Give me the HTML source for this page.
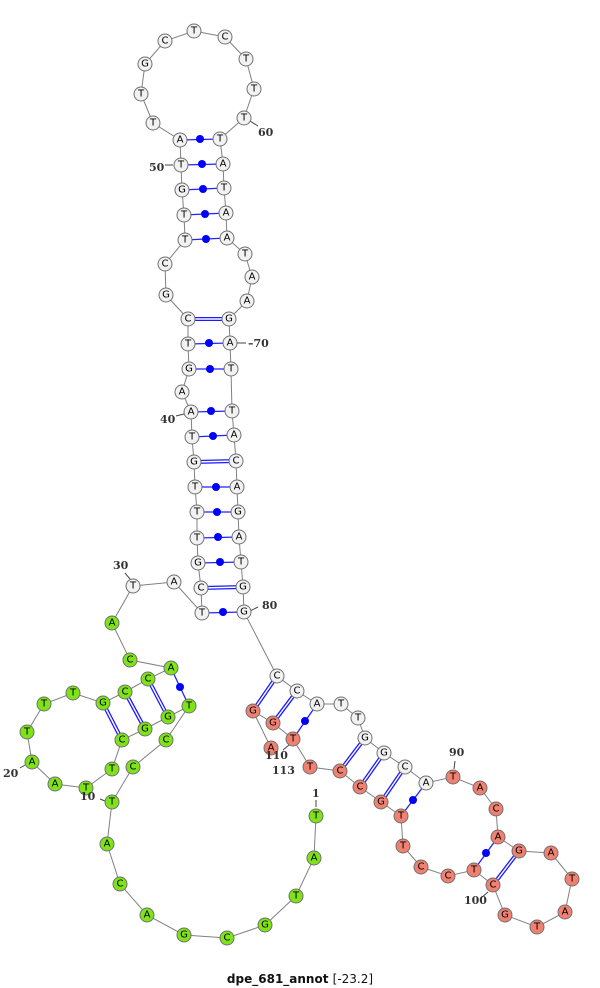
<!DOCTYPE html>
<html><head><meta charset="utf-8"><style>
html,body{margin:0;padding:0;background:#fff;}
svg{display:block;}
.b{fill:none;stroke:#808080;stroke-width:1;}
.n circle{stroke:#707070;stroke-width:1;}
.w circle{fill:#f2f2f2;}
.g circle{fill:#7fe31a;}
.r circle{fill:#f08070;}
.n text{font-family:"DejaVu Sans","Liberation Sans",sans-serif;font-size:10px;text-anchor:middle;dominant-baseline:central;fill:#000;}
.lab{font-family:"DejaVu Serif","Liberation Serif",serif;font-size:11px;font-weight:bold;fill:#333;}
.t{stroke:#444;stroke-width:1;}
.d{stroke:#1a1aff;stroke-width:4;}
.dw{stroke:#fff;stroke-width:1.4;}
.s{stroke:#2222ff;stroke-width:1.3;}
</style></head><body>
<svg width="600" height="988" viewBox="0 0 600 988" xmlns="http://www.w3.org/2000/svg">
<polyline class="b" points="316,816 314,858 296,896 265,925 227,938 184,935 147,915 120,884 107,844 112,802 133,767 166,740 189,706 168,717 145,729 122,740 112,769 86,788 55,784 32,762 27,732 44,704 73,693 103,703 125,692 148,679 171,668 130,660 112,623 133,586 174,582 202,613 201,588 198,563 197,538 197,512 195,487 194,462 192,437 191,412 182,392 189,369 188,344 188,319 166,295 165,264 185,240 184,215 182,190 181,165 180,140 153,123 141,94 145,64 165,41 194,31 225,37 246,59 254,89 244,118 220,139 223,164 224,188 226,213 227,238 245,254 252,277 247,301 229,319 230,343 231,369 232,411 234,435 236,461 237,487 238,512 239,537 241,562 243,587 244,612 277,676 297,691 317,704 341,704 358,718 365,738 384,753 405,767 426,783 453,777 480,788 496,809 498,837 519,851 551,853 572,879 565,912 537,927 505,915 493,885 474,870 448,876 421,867 403,846 401,816 381,802 360,787 340,771 310,767 293,739 273,723 253,711 271,748"/>
<!-- double (GC) pairs -->
<g>
<line class="d" x1="103" y1="703" x2="122" y2="740"/><line class="dw" x1="103" y1="703" x2="122" y2="740"/>
<line class="d" x1="125" y1="692" x2="145" y2="729"/><line class="dw" x1="125" y1="692" x2="145" y2="729"/>
<line class="d" x1="148" y1="679" x2="168" y2="717"/><line class="dw" x1="148" y1="679" x2="168" y2="717"/>
<line class="d" x1="201" y1="588" x2="243" y2="587"/><line class="dw" x1="201" y1="588" x2="243" y2="587"/>
<line class="d" x1="194" y1="462" x2="236" y2="461"/><line class="dw" x1="194" y1="462" x2="236" y2="461"/>
<line class="d" x1="188" y1="319" x2="229" y2="319"/><line class="dw" x1="188" y1="319" x2="229" y2="319"/>
<line class="d" x1="277" y1="676" x2="253" y2="711"/><line class="dw" x1="277" y1="676" x2="253" y2="711"/>
<line class="d" x1="297" y1="691" x2="273" y2="723"/><line class="dw" x1="297" y1="691" x2="273" y2="723"/>
<line class="d" x1="365" y1="738" x2="340" y2="771"/><line class="dw" x1="365" y1="738" x2="340" y2="771"/>
<line class="d" x1="384" y1="753" x2="360" y2="787"/><line class="dw" x1="384" y1="753" x2="360" y2="787"/>
<line class="d" x1="405" y1="767" x2="381" y2="802"/><line class="dw" x1="405" y1="767" x2="381" y2="802"/>
<line class="d" x1="519" y1="851" x2="493" y2="885"/><line class="dw" x1="519" y1="851" x2="493" y2="885"/>
</g>
<!-- single (dot) pairs -->
<g fill="#0000ff">
<line class="s" x1="171" y1="668" x2="189" y2="706"/><circle cx="180" cy="687" r="4"/>
<line class="s" x1="202" y1="613" x2="244" y2="612"/><circle cx="223" cy="612" r="4"/>
<line class="s" x1="198" y1="563" x2="241" y2="562"/><circle cx="220" cy="562" r="4"/>
<line class="s" x1="197" y1="538" x2="239" y2="537"/><circle cx="218" cy="537" r="4"/>
<line class="s" x1="197" y1="512" x2="238" y2="512"/><circle cx="217" cy="512" r="4"/>
<line class="s" x1="195" y1="487" x2="237" y2="487"/><circle cx="216" cy="487" r="4"/>
<line class="s" x1="192" y1="437" x2="234" y2="435"/><circle cx="213" cy="436" r="4"/>
<line class="s" x1="191" y1="412" x2="232" y2="411"/><circle cx="211" cy="411" r="4"/>
<line class="s" x1="189" y1="369" x2="231" y2="369"/><circle cx="210" cy="369" r="4"/>
<line class="s" x1="188" y1="344" x2="230" y2="343"/><circle cx="209" cy="343" r="4"/>
<line class="s" x1="185" y1="240" x2="227" y2="238"/><circle cx="206" cy="239" r="4"/>
<line class="s" x1="184" y1="215" x2="226" y2="213"/><circle cx="205" cy="214" r="4"/>
<line class="s" x1="182" y1="190" x2="224" y2="188"/><circle cx="203" cy="189" r="4"/>
<line class="s" x1="181" y1="165" x2="223" y2="164"/><circle cx="202" cy="164" r="4"/>
<line class="s" x1="180" y1="140" x2="220" y2="139"/><circle cx="200" cy="139" r="4"/>
<line class="s" x1="317" y1="704" x2="293" y2="739"/><circle cx="305" cy="721" r="4"/>
<line class="s" x1="426" y1="783" x2="401" y2="816"/><circle cx="413" cy="800" r="4"/>
<line class="s" x1="498" y1="837" x2="474" y2="870"/><circle cx="486" cy="853" r="4"/>
</g>
<!-- tick lines -->
<g class="t">
<line x1="316" y1="800" x2="316" y2="807"/>
<line x1="100" y1="799" x2="105" y2="801"/>
<line x1="20" y1="768" x2="25" y2="765"/>
<line x1="125" y1="573" x2="130" y2="579"/>
<line x1="250" y1="611" x2="258" y2="607"/>
<line x1="236" y1="343" x2="246" y2="343"/>
<line x1="176" y1="416" x2="184" y2="414"/>
<line x1="165" y1="165" x2="173" y2="165"/>
<line x1="250" y1="121" x2="258" y2="126"/>
<line x1="455" y1="761" x2="454" y2="769"/>
<line x1="481" y1="898" x2="488" y2="892"/>
<line x1="283" y1="750" x2="289" y2="745"/>
</g>
<g class="n g">
<circle cx="316" cy="816" r="7"/><text x="316" y="816">T</text>
<circle cx="314" cy="858" r="7"/><text x="314" y="858">A</text>
<circle cx="296" cy="896" r="7"/><text x="296" y="896">T</text>
<circle cx="265" cy="925" r="7"/><text x="265" y="925">G</text>
<circle cx="227" cy="938" r="7"/><text x="227" y="938">C</text>
<circle cx="184" cy="935" r="7"/><text x="184" y="935">G</text>
<circle cx="147" cy="915" r="7"/><text x="147" y="915">A</text>
<circle cx="120" cy="884" r="7"/><text x="120" y="884">C</text>
<circle cx="107" cy="844" r="7"/><text x="107" y="844">A</text>
<circle cx="112" cy="802" r="7"/><text x="112" y="802">T</text>
<circle cx="133" cy="767" r="7"/><text x="133" y="767">C</text>
<circle cx="166" cy="740" r="7"/><text x="166" y="740">C</text>
<circle cx="189" cy="706" r="7"/><text x="189" y="706">T</text>
<circle cx="168" cy="717" r="7"/><text x="168" y="717">G</text>
<circle cx="145" cy="729" r="7"/><text x="145" y="729">G</text>
<circle cx="122" cy="740" r="7"/><text x="122" y="740">C</text>
<circle cx="112" cy="769" r="7"/><text x="112" y="769">T</text>
<circle cx="86" cy="788" r="7"/><text x="86" y="788">T</text>
<circle cx="55" cy="784" r="7"/><text x="55" y="784">A</text>
<circle cx="32" cy="762" r="7"/><text x="32" y="762">A</text>
<circle cx="27" cy="732" r="7"/><text x="27" y="732">T</text>
<circle cx="44" cy="704" r="7"/><text x="44" y="704">T</text>
<circle cx="73" cy="693" r="7"/><text x="73" y="693">T</text>
<circle cx="103" cy="703" r="7"/><text x="103" y="703">G</text>
<circle cx="125" cy="692" r="7"/><text x="125" y="692">C</text>
<circle cx="148" cy="679" r="7"/><text x="148" y="679">C</text>
<circle cx="171" cy="668" r="7"/><text x="171" y="668">A</text>
<circle cx="130" cy="660" r="7"/><text x="130" y="660">C</text>
<circle cx="112" cy="623" r="7"/><text x="112" y="623">A</text>
</g>
<g class="n w">
<circle cx="133" cy="586" r="7"/><text x="133" y="586">T</text>
<circle cx="174" cy="582" r="7"/><text x="174" y="582">A</text>
<circle cx="202" cy="613" r="7"/><text x="202" y="613">T</text>
<circle cx="201" cy="588" r="7"/><text x="201" y="588">C</text>
<circle cx="198" cy="563" r="7"/><text x="198" y="563">G</text>
<circle cx="197" cy="538" r="7"/><text x="197" y="538">T</text>
<circle cx="197" cy="512" r="7"/><text x="197" y="512">T</text>
<circle cx="195" cy="487" r="7"/><text x="195" y="487">T</text>
<circle cx="194" cy="462" r="7"/><text x="194" y="462">G</text>
<circle cx="192" cy="437" r="7"/><text x="192" y="437">T</text>
<circle cx="191" cy="412" r="7"/><text x="191" y="412">A</text>
<circle cx="182" cy="392" r="7"/><text x="182" y="392">A</text>
<circle cx="189" cy="369" r="7"/><text x="189" y="369">G</text>
<circle cx="188" cy="344" r="7"/><text x="188" y="344">T</text>
<circle cx="188" cy="319" r="7"/><text x="188" y="319">C</text>
<circle cx="166" cy="295" r="7"/><text x="166" y="295">G</text>
<circle cx="165" cy="264" r="7"/><text x="165" y="264">C</text>
<circle cx="185" cy="240" r="7"/><text x="185" y="240">T</text>
<circle cx="184" cy="215" r="7"/><text x="184" y="215">T</text>
<circle cx="182" cy="190" r="7"/><text x="182" y="190">G</text>
<circle cx="181" cy="165" r="7"/><text x="181" y="165">T</text>
<circle cx="180" cy="140" r="7"/><text x="180" y="140">A</text>
<circle cx="153" cy="123" r="7"/><text x="153" y="123">T</text>
<circle cx="141" cy="94" r="7"/><text x="141" y="94">T</text>
<circle cx="145" cy="64" r="7"/><text x="145" y="64">G</text>
<circle cx="165" cy="41" r="7"/><text x="165" y="41">C</text>
<circle cx="194" cy="31" r="7"/><text x="194" y="31">T</text>
<circle cx="225" cy="37" r="7"/><text x="225" y="37">C</text>
<circle cx="246" cy="59" r="7"/><text x="246" y="59">T</text>
<circle cx="254" cy="89" r="7"/><text x="254" y="89">T</text>
<circle cx="244" cy="118" r="7"/><text x="244" y="118">T</text>
<circle cx="220" cy="139" r="7"/><text x="220" y="139">T</text>
<circle cx="223" cy="164" r="7"/><text x="223" y="164">A</text>
<circle cx="224" cy="188" r="7"/><text x="224" y="188">T</text>
<circle cx="226" cy="213" r="7"/><text x="226" y="213">A</text>
<circle cx="227" cy="238" r="7"/><text x="227" y="238">A</text>
<circle cx="245" cy="254" r="7"/><text x="245" y="254">T</text>
<circle cx="252" cy="277" r="7"/><text x="252" y="277">A</text>
<circle cx="247" cy="301" r="7"/><text x="247" y="301">A</text>
<circle cx="229" cy="319" r="7"/><text x="229" y="319">G</text>
<circle cx="230" cy="343" r="7"/><text x="230" y="343">A</text>
<circle cx="231" cy="369" r="7"/><text x="231" y="369">T</text>
<circle cx="232" cy="411" r="7"/><text x="232" y="411">T</text>
<circle cx="234" cy="435" r="7"/><text x="234" y="435">A</text>
<circle cx="236" cy="461" r="7"/><text x="236" y="461">C</text>
<circle cx="237" cy="487" r="7"/><text x="237" y="487">A</text>
<circle cx="238" cy="512" r="7"/><text x="238" y="512">G</text>
<circle cx="239" cy="537" r="7"/><text x="239" y="537">A</text>
<circle cx="241" cy="562" r="7"/><text x="241" y="562">T</text>
<circle cx="243" cy="587" r="7"/><text x="243" y="587">G</text>
<circle cx="244" cy="612" r="7"/><text x="244" y="612">G</text>
<circle cx="277" cy="676" r="7"/><text x="277" y="676">C</text>
<circle cx="297" cy="691" r="7"/><text x="297" y="691">C</text>
<circle cx="317" cy="704" r="7"/><text x="317" y="704">A</text>
<circle cx="341" cy="704" r="7"/><text x="341" y="704">T</text>
<circle cx="358" cy="718" r="7"/><text x="358" y="718">T</text>
<circle cx="365" cy="738" r="7"/><text x="365" y="738">G</text>
<circle cx="384" cy="753" r="7"/><text x="384" y="753">G</text>
<circle cx="405" cy="767" r="7"/><text x="405" y="767">C</text>
<circle cx="426" cy="783" r="7"/><text x="426" y="783">A</text>
</g>
<g class="n r">
<circle cx="453" cy="777" r="7"/><text x="453" y="777">T</text>
<circle cx="480" cy="788" r="7"/><text x="480" y="788">A</text>
<circle cx="496" cy="809" r="7"/><text x="496" y="809">C</text>
<circle cx="498" cy="837" r="7"/><text x="498" y="837">A</text>
<circle cx="519" cy="851" r="7"/><text x="519" y="851">G</text>
<circle cx="551" cy="853" r="7"/><text x="551" y="853">A</text>
<circle cx="572" cy="879" r="7"/><text x="572" y="879">T</text>
<circle cx="565" cy="912" r="7"/><text x="565" y="912">A</text>
<circle cx="537" cy="927" r="7"/><text x="537" y="927">T</text>
<circle cx="505" cy="915" r="7"/><text x="505" y="915">G</text>
<circle cx="493" cy="885" r="7"/><text x="493" y="885">C</text>
<circle cx="474" cy="870" r="7"/><text x="474" y="870">T</text>
<circle cx="448" cy="876" r="7"/><text x="448" y="876">C</text>
<circle cx="421" cy="867" r="7"/><text x="421" y="867">C</text>
<circle cx="403" cy="846" r="7"/><text x="403" y="846">T</text>
<circle cx="401" cy="816" r="7"/><text x="401" y="816">T</text>
<circle cx="381" cy="802" r="7"/><text x="381" y="802">G</text>
<circle cx="360" cy="787" r="7"/><text x="360" y="787">C</text>
<circle cx="340" cy="771" r="7"/><text x="340" y="771">C</text>
<circle cx="310" cy="767" r="7"/><text x="310" y="767">T</text>
<circle cx="293" cy="739" r="7"/><text x="293" y="739">T</text>
<circle cx="273" cy="723" r="7"/><text x="273" y="723">G</text>
<circle cx="253" cy="711" r="7"/><text x="253" y="711">G</text>
<circle cx="271" cy="748" r="7"/><text x="271" y="748">A</text>
</g>
<g class="lab">
<text x="312" y="797">1</text>
<text x="80" y="800">10</text>
<text x="3" y="777">20</text>
<text x="113" y="569">30</text>
<text x="160" y="423">40</text>
<text x="149" y="171">50</text>
<text x="258" y="136">60</text>
<text x="248" y="347">–70</text>
<text x="262" y="609">80</text>
<text x="449" y="756">90</text>
<text x="464" y="904">100</text>
<text x="265" y="759">110</text>
<text x="272" y="774">113</text>
</g>
<text x="300" y="983" text-anchor="middle" style="font-family:'DejaVu Sans','Liberation Sans',sans-serif;font-size:12px;font-weight:bold;fill:#111;">dpe_681_annot <tspan font-weight="normal">[-23.2]</tspan></text>
</svg>
</body></html>
